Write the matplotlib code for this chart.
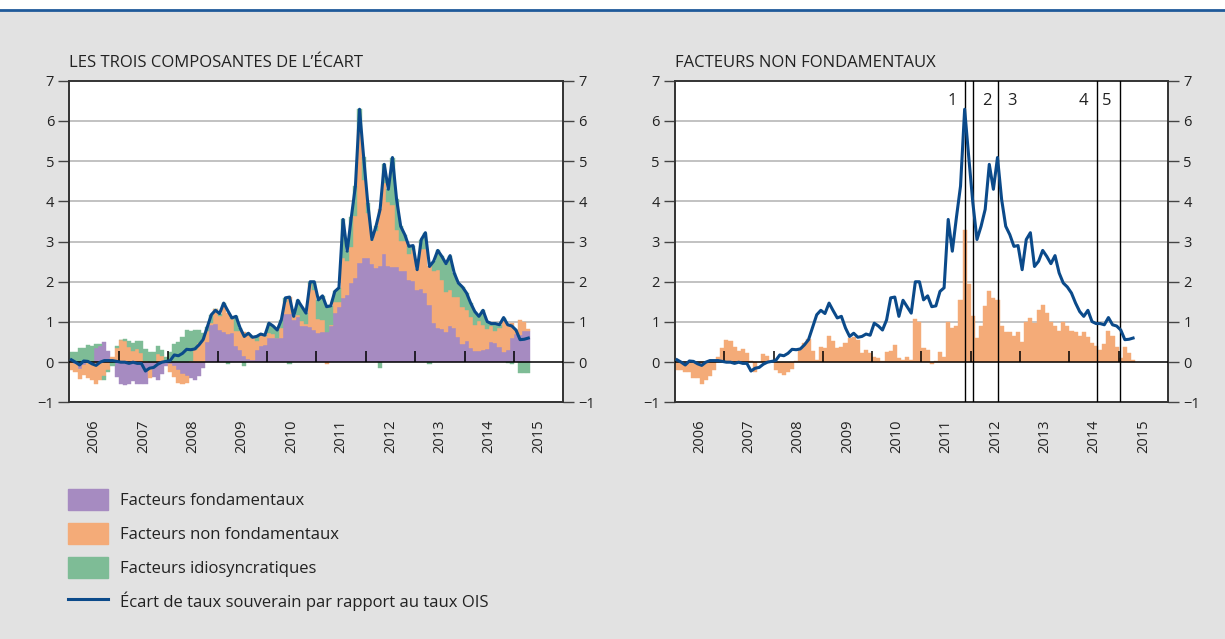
import numpy as np
import matplotlib
matplotlib.use('Agg')
import matplotlib.pyplot as plt
from matplotlib.patches import Patch, Rectangle
from matplotlib.lines import Line2D

plt.rcParams['font.family'] = ['Open Sans', 'DejaVu Sans']

# valeurs mensuelles, janvier 2006 - avril 2015
fondamentaux = [
    0.06, -0.05, -0.18, -0.08, 0.02, -0.04, 0.35, 0.40, 0.49, 0.29, 0.00, -0.38,
    -0.54, -0.57, -0.55, -0.48, -0.55, -0.55, -0.54, -0.15, -0.38, -0.45, -0.30, -0.10,
    -0.05, -0.10, -0.20, -0.30, -0.35, -0.40, -0.45, -0.35, -0.15, 0.50, 0.92, 0.95,
    0.80, 0.75, 0.71, 0.72, 0.40, 0.30, 0.15, 0.08, 0.05, 0.30, 0.40, 0.43,
    0.59, 0.59, 0.59, 0.59, 1.21, 1.19, 1.04, 1.13, 0.90, 0.90, 0.87, 0.80,
    0.72, 0.75, 0.75, 0.90, 1.23, 1.36, 1.60, 1.68, 1.96, 2.10, 2.46, 2.58,
    2.58, 2.45, 2.35, 2.40, 2.69, 2.38, 2.36, 2.37, 2.28, 2.28, 2.04, 2.02,
    1.80, 1.82, 1.72, 1.41, 0.97, 0.86, 0.82, 0.76, 0.91, 0.84, 0.63, 0.46,
    0.53, 0.36, 0.27, 0.28, 0.30, 0.34, 0.50, 0.47, 0.38, 0.26, 0.30, 0.60,
    0.70, 0.68, 0.77, 0.77]

non_fondamentaux = [
    -0.20, -0.20, -0.24, -0.24, -0.40, -0.40, -0.53, -0.45, -0.35, -0.20, 0.14, 0.35,
    0.54, 0.52, 0.37, 0.28, 0.32, 0.22, 0.02, -0.25, 0.00, 0.20, 0.15, 0.02,
    -0.20, -0.28, -0.32, -0.24, -0.16, 0.02, 0.30, 0.48, 0.58, 0.27, 0.05, 0.38,
    0.36, 0.66, 0.52, 0.35, 0.38, 0.47, 0.59, 0.63, 0.56, 0.22, 0.30, 0.22,
    0.14, 0.10, 0.02, 0.26, 0.28, 0.43, 0.10, 0.05, 0.12, 0.05, 1.07, 0.99,
    0.35, 0.30, -0.05, 0.02, 0.26, 0.13, 1.00, 0.84, 0.90, 1.54, 3.28, 1.95,
    1.14, 0.60, 0.91, 1.40, 1.76, 1.60, 1.55, 0.91, 0.74, 0.74, 0.66, 0.76,
    0.51, 0.99, 1.10, 0.97, 1.30, 1.43, 1.23, 0.99, 0.89, 0.78, 0.99, 0.90,
    0.78, 0.76, 0.66, 0.74, 0.62, 0.48, 0.40, 0.30, 0.46, 0.78, 0.64, 0.37,
    0.10, 0.38, 0.22, 0.05]

idiosyncratiques = [
    0.20, 0.25, 0.35, 0.35, 0.40, 0.40, 0.10, 0.05, -0.10, -0.05, -0.10, 0.05,
    0.00, 0.05, 0.15, 0.20, 0.20, 0.30, 0.30, 0.25, 0.25, 0.20, 0.15, 0.10,
    0.25, 0.45, 0.50, 0.62, 0.80, 0.75, 0.50, 0.32, 0.15, 0.10, 0.21, 0.00,
    0.05, 0.06, -0.05, 0.03, 0.36, 0.08, -0.10, 0.01, 0.01, 0.12, 0.00, 0.02,
    0.24, 0.21, 0.19, 0.20, 0.11, -0.05, 0.00, 0.36, 0.36, 0.27, 0.06, 0.21,
    0.48, 0.60, 0.68, 0.48, 0.27, 0.36, 0.95, 0.24, 0.74, 0.74, 0.55, 0.57,
    0.24, 0.00, 0.12, -0.15, 0.47, 0.32, 1.18, 0.77, 0.36, 0.15, 0.18, 0.12,
    0.00, 0.24, 0.40, -0.05, 0.24, 0.49, 0.58, 0.70, 0.85, 0.60, 0.35, 0.51,
    0.41, 0.35, 0.33, 0.12, 0.37, 0.19, 0.06, 0.19, 0.09, 0.07, -0.02, -0.05,
    0.00, -0.27, -0.27, -0.27]

ecart_ois = [
    0.06, 0.00, -0.07, 0.03, 0.02, -0.04, -0.08, 0.00, 0.04, 0.04, 0.04, 0.02,
    0.00, 0.00, -0.03, 0.00, -0.03, -0.03, -0.22, -0.15, -0.13, -0.05, 0.00, 0.02,
    0.04, 0.18, 0.16, 0.22, 0.32, 0.31, 0.33, 0.43, 0.56, 0.87, 1.18, 1.29,
    1.21, 1.47, 1.28, 1.10, 1.14, 0.85, 0.64, 0.72, 0.62, 0.64, 0.70, 0.67,
    0.97, 0.90, 0.80, 1.05, 1.60, 1.62, 1.14, 1.54, 1.38, 1.22, 2.00, 2.00,
    1.55, 1.65, 1.38, 1.40, 1.76, 1.85, 3.55, 2.76, 3.60, 4.38, 6.29, 5.10,
    3.96, 3.05, 3.38, 3.80, 4.92, 4.30, 5.09, 4.05, 3.38, 3.17, 2.88, 2.90,
    2.30, 3.05, 3.22, 2.38, 2.51, 2.78, 2.63, 2.45, 2.65, 2.22, 1.97, 1.87,
    1.72, 1.47, 1.26, 1.14, 1.29, 1.01, 0.96, 0.96, 0.93, 1.11, 0.93, 0.90,
    0.80, 0.56, 0.57, 0.60]

annees = [2006, 2007, 2008, 2009, 2010, 2011, 2012, 2013, 2014, 2015]
evenements = [2011.88, 2012.05, 2012.56, 2014.55, 2015.03]
noms_evenements = ['1', '2', '3', '4', '5']
cote_etiquette = ['left', 'right', 'right', 'left', 'left']

violet = '#a68bc1'
orange = '#f4ab78'
vert = '#7ebc96'
bleu = '#0b4a8a'
fond = '#e2e2e2'

n = len(ecart_ois)
mois = 2006 + np.arange(n) / 12
milieu = mois + 1 / 24


def empiler(ax, series, couleurs):
    haut = np.zeros(n)
    bas = np.zeros(n)
    for s, c in zip(series, couleurs):
        s = np.asarray(s, dtype=float)
        base = np.where(s >= 0, haut, bas)
        ax.bar(mois, s, width=1 / 12, bottom=base, align='edge', color=c,
               edgecolor=c, linewidth=0.3, zorder=2)
        haut += np.where(s > 0, s, 0)
        bas += np.where(s < 0, s, 0)


def habiller(ax, titre):
    ax.set_facecolor('white')
    ax.set_xlim(2006, 2016)
    ax.set_ylim(-1, 7)
    ax.set_yticks(range(-1, 8))
    ax.set_yticklabels([str(v) if v >= 0 else '\u2212' + str(-v) for v in range(-1, 8)])
    ax.tick_params(axis='y', left=True, right=True, labelleft=True, labelright=True,
                   direction='out', length=8, width=1, color='#444444',
                   labelsize=10.5, labelcolor='#222222', pad=3)
    for v in range(1, 7):
        ax.axhline(v, color='#bdbdbd', lw=1.3, zorder=1)
    ax.axhline(0, color='black', lw=1.1, zorder=4)
    ax.set_xticks([a + 0.5 for a in annees])
    ax.set_xticklabels([str(a) for a in annees], rotation=90, va='top')
    ax.tick_params(axis='x', length=0, pad=12, labelsize=10.5, labelcolor='#222222')
    ax.vlines(annees[1:], 0, 0.27, color='black', lw=1.1, zorder=5)
    for sp in ax.spines.values():
        sp.set_color('#333333')
        sp.set_linewidth(1.4)
    ax.text(0, 1.03, titre, transform=ax.transAxes, ha='left', va='bottom',
            fontsize=12, color='#222222')


fig = plt.figure(figsize=(12.25, 6.39), dpi=100, facecolor=fond)
fig.add_artist(Rectangle((0, 1 - 9 / 639), 1, 9 / 639, transform=fig.transFigure,
                         color='white', zorder=0))
fig.add_artist(Line2D([0, 1], [1 - 10 / 639] * 2, transform=fig.transFigure,
                      color='#1f5a9a', lw=2))

ax1 = fig.add_axes([69.3 / 1225, 1 - 402.4 / 639, 494 / 1225, 321.7 / 639])
ax2 = fig.add_axes([675 / 1225, 1 - 402.4 / 639, 493 / 1225, 321.7 / 639])

empiler(ax1, [fondamentaux, non_fondamentaux, idiosyncratiques], [violet, orange, vert])
ax1.plot(milieu, ecart_ois, color=bleu, lw=2.2, zorder=6)
habiller(ax1, 'LES TROIS COMPOSANTES DE L\u2019\u00c9CART')

ax2.bar(mois, non_fondamentaux, width=1 / 12, align='edge', color=orange,
        edgecolor=orange, linewidth=0.3, zorder=2)
ax2.plot(milieu, ecart_ois, color=bleu, lw=2.2, zorder=6)
for x, nom, cote in zip(evenements, noms_evenements, cote_etiquette):
    ax2.axvline(x, color='black', lw=1.0, zorder=5)
    dx = -0.17 if cote == 'left' else 0.17
    ax2.text(x + dx, 6.5, nom, ha='right' if cote == 'left' else 'left',
             va='center', fontsize=12, color='#222222')
habiller(ax2, 'FACTEURS NON FONDAMENTAUX')

poignees = [Patch(color=violet), Patch(color=orange), Patch(color=vert),
            Line2D([], [], color=bleu, lw=2.2)]
etiquettes = ['Facteurs fondamentaux', 'Facteurs non fondamentaux',
              'Facteurs idiosyncratiques',
              '\u00c9cart de taux souverain par rapport au taux OIS']
fig.legend(poignees, etiquettes, loc='upper left',
           bbox_to_anchor=(68 / 1225, 1 - 489 / 639), frameon=False,
           fontsize=12, handlelength=2.4, handleheight=1.6, labelspacing=0.75,
           handletextpad=0.7, borderaxespad=0, borderpad=0, labelcolor='#222222')

fig.savefig('out.png', dpi=100, facecolor=fig.get_facecolor())
